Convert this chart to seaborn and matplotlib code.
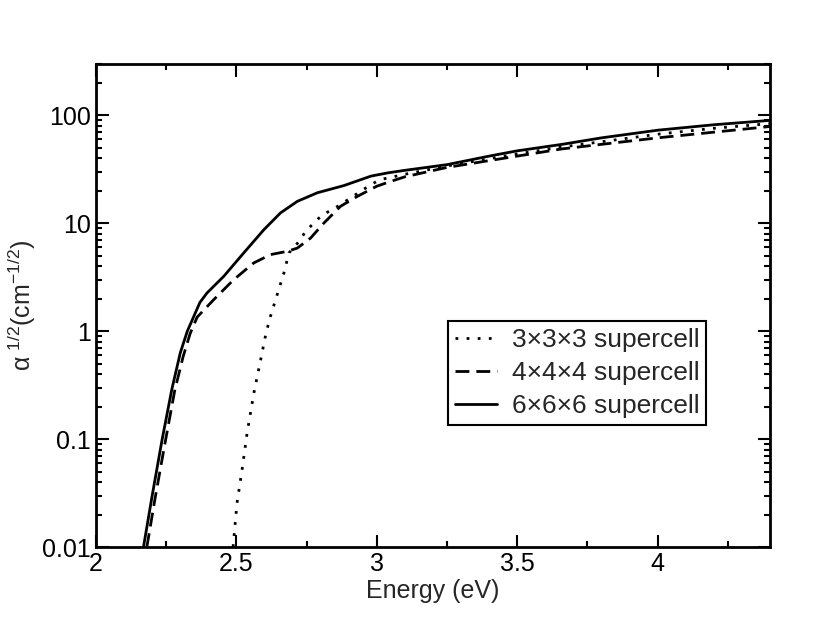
import numpy as np
import pandas as pd
import matplotlib
matplotlib.use("Agg")
import matplotlib.pyplot as plt
import matplotlib.ticker as mticker
import seaborn as sns

x_333 = [2.488, 2.502, 2.52, 2.538, 2.562, 2.586, 2.605, 2.621, 2.645, 2.669, 2.687,
         2.723, 2.746, 2.776, 2.806, 2.842, 2.907, 2.979, 3.014, 3.1, 3.25, 3.5,
         3.66, 4.0, 4.2, 4.4]
y_333 = [0.01, 0.0255, 0.052, 0.114, 0.267, 0.54, 0.95, 1.37, 2.18, 3.47, 5.32,
         6.8, 8.4, 10.1, 12.0, 13.4, 17.2, 22.9, 25.5, 28.5, 34, 44,
         51, 67, 76, 84]

x_444 = [2.181, 2.21, 2.245, 2.28, 2.31, 2.335, 2.36, 2.419, 2.49, 2.562, 2.621,
         2.681, 2.717, 2.764, 2.812, 2.871, 2.931, 3.0, 3.05, 3.1, 3.25, 3.5,
         3.66, 4.0, 4.2, 4.4]
y_444 = [0.01, 0.028, 0.09, 0.28, 0.58, 0.95, 1.35, 1.96, 3.0, 4.3, 5.13,
         5.5, 5.9, 7.3, 10.1, 14.4, 17.8, 22.1, 24.5, 27, 33, 42,
         49, 62, 70, 79]

x_666 = [2.169, 2.20, 2.235, 2.27, 2.30, 2.325, 2.348, 2.37, 2.395, 2.455, 2.526,
         2.598, 2.657, 2.717, 2.788, 2.883, 2.979, 3.04, 3.1, 3.25, 3.4, 3.5,
         3.66, 3.8, 4.0, 4.2, 4.4]
y_666 = [0.01, 0.03, 0.098, 0.29, 0.63, 1.0, 1.37, 1.85, 2.26, 3.23, 5.32,
         8.75, 12.5, 16.0, 19.2, 22.4, 27.4, 29.4, 31, 35, 42, 47,
         54, 62, 73, 82, 90]

labels = ["3×3×3 supercell", "4×4×4 supercell", "6×6×6 supercell"]

sns.set_style("ticks")
plt.rcParams['font.family'] = ['Liberation Sans', 'DejaVu Sans']
plt.rcParams['mathtext.fontset'] = 'custom'
plt.rcParams['mathtext.rm'] = 'Liberation Sans'
plt.rcParams['mathtext.it'] = 'Liberation Sans'

fig = plt.figure(figsize=(8.3, 6.43), dpi=100)
ax = fig.add_axes([0.1157, 0.1493, 0.812, 0.7512])

sns.lineplot(x=x_333, y=y_333, ax=ax, color='black', lw=2, linestyle=(0, (1, 3)), label=labels[0])
sns.lineplot(x=x_444, y=y_444, ax=ax, color='black', lw=2, linestyle=(0, (5, 2.5)), label=labels[1])
sns.lineplot(x=x_666, y=y_666, ax=ax, color='black', lw=2, linestyle='-', label=labels[2])

ax.set_yscale('log')
ax.set_xlim(2, 4.4)
ax.set_ylim(0.01, 300)
ax.set_xticks([2, 2.5, 3, 3.5, 4])
ax.xaxis.set_major_formatter(mticker.FuncFormatter(lambda v, p: '%g' % v))
ax.xaxis.set_minor_locator(mticker.MultipleLocator(0.25))
ax.set_yticks([0.01, 0.1, 1, 10, 100])
ax.yaxis.set_major_formatter(mticker.FuncFormatter(lambda v, p: '%g' % v))
ax.yaxis.set_minor_locator(mticker.LogLocator(base=10, subs=np.arange(2, 10)))
ax.yaxis.set_minor_formatter(mticker.NullFormatter())

ax.tick_params(which='both', direction='in', top=True, right=True, width=1.5, colors='black', labelsize=18)
ax.tick_params(which='major', length=9)
ax.tick_params(which='minor', length=4.5)
for s in ax.spines.values():
    s.set_linewidth(2)
    s.set_color('black')

ax.set_xlabel('Energy (eV)', fontsize=18, labelpad=2)
ax.set_ylabel(r'$\alpha^{\ 1/2}$(cm$^{-1/2}$)', fontsize=18)
ax.yaxis.set_label_coords(-0.086, 0.5)

leg = ax.legend(loc='upper left', bbox_to_anchor=(0.522, 0.468), borderaxespad=0,
                fontsize=19, handlelength=1.6, handletextpad=0.55, labelspacing=0.34,
                borderpad=0.27, fancybox=False, framealpha=1, edgecolor='black')
leg.get_frame().set_linewidth(1.5)

fig.savefig('out.png', dpi=100)
